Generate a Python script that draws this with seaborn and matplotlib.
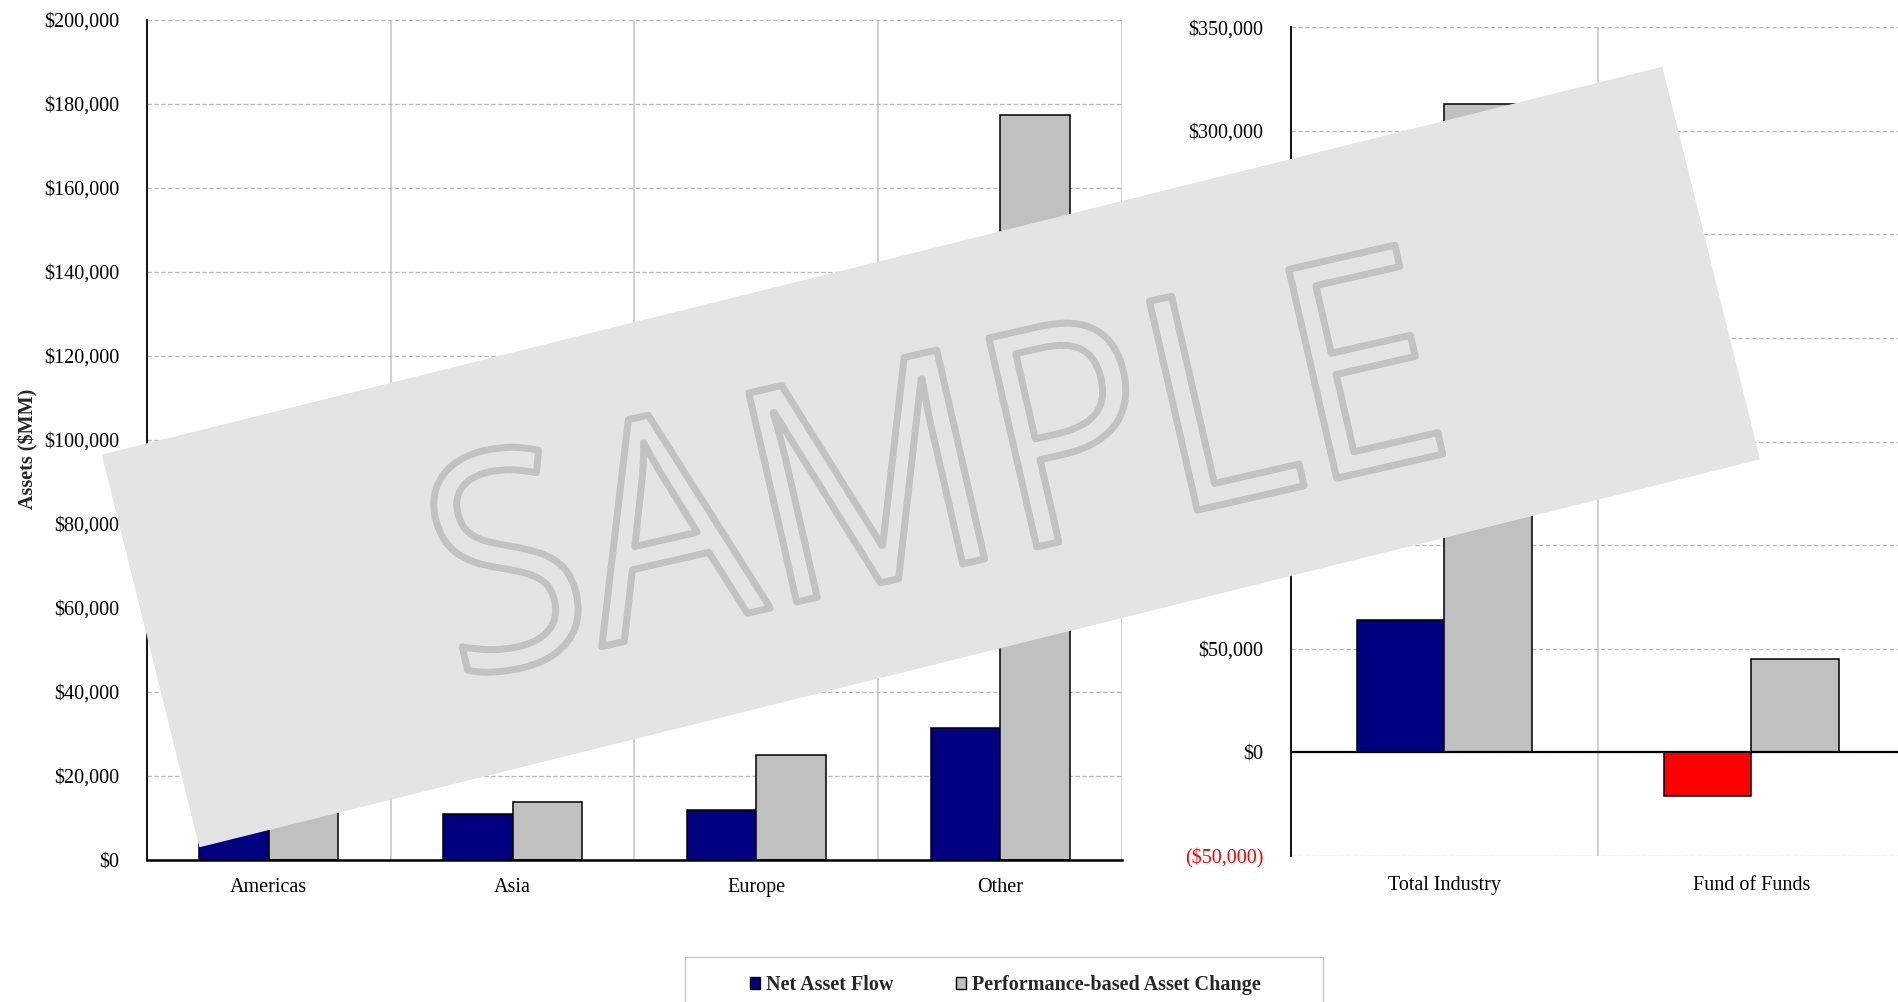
import matplotlib
matplotlib.use("Agg")
import matplotlib.pyplot as plt
import matplotlib.ticker as mticker
import matplotlib.patches as mpatches
from matplotlib.transforms import IdentityTransform, Affine2D
from matplotlib.textpath import TextPath
from matplotlib.font_manager import FontProperties
import numpy as np
import pandas as pd
import seaborn as sns

# ---------------- data ----------------
regions = ["Americas", "Asia", "Europe", "Other"]
region_net_flow = [9500, 10900, 11900, 31400]
region_perf_change = [96700, 13900, 25000, 177400]

segments = ["Total Industry", "Fund of Funds"]
segment_net_flow = [63700, -20900]
segment_perf_change = [313000, 45300]

series_names = ["Net Asset Flow", "Performance-based Asset Change"]
region_yticks = list(range(0, 200001, 20000))
segment_yticks = list(range(-50000, 350001, 50000))

# ---------------- style ----------------
sns.set_style("white")
plt.rcParams["font.family"] = ["Liberation Serif", "DejaVu Serif"]

NAVY = "#000080"
GREY = "#C0C0C0"
RED = "#FF0000"
FS = 14.5

def money(v, pos=None):
    v = int(round(v))
    return f"(${abs(v):,})" if v < 0 else f"${v:,}"

df_reg = pd.DataFrame({
    "cat": regions * 2,
    "value": region_net_flow + region_perf_change,
    "series": [series_names[0]] * len(regions) + [series_names[1]] * len(regions),
})
df_seg = pd.DataFrame({
    "cat": segments * 2,
    "value": segment_net_flow + segment_perf_change,
    "series": [series_names[0]] * len(segments) + [series_names[1]] * len(segments),
})

fig = plt.figure(figsize=(18.99, 10.02), dpi=100)
ax1 = fig.add_axes([0.0774, 0.1417, 0.5134, 0.8383])
ax2 = fig.add_axes([0.6798, 0.1457, 0.3233, 0.8273])

def style_axis(ax, ncat, yticks, bottom_spine=True):
    ax.set_xlim(-0.5, ncat - 0.5)
    ax.set_ylim(yticks[0], yticks[-1])
    ax.set_yticks(yticks)
    ax.yaxis.set_major_formatter(mticker.FuncFormatter(money))
    ax.set_axisbelow(True)
    ax.yaxis.grid(True, color="#b8b8b8", linestyle=(0, (3.5, 2)), linewidth=0.9)
    ax.set_xticks(np.arange(-0.5, ncat, 1.0), minor=True)
    ax.xaxis.grid(True, which="minor", color="#c4c4c4", linestyle="-", linewidth=1.1)
    ax.xaxis.grid(False, which="major")
    for s in ["top", "right"]:
        ax.spines[s].set_visible(False)
    ax.spines["left"].set_color("black")
    ax.spines["left"].set_linewidth(1.3)
    if bottom_spine:
        ax.spines["bottom"].set_color("black")
        ax.spines["bottom"].set_linewidth(1.8)
        ax.tick_params(axis="x", which="minor", length=6, width=1.2, color="black", direction="out")
        pad = 13
    else:
        ax.spines["bottom"].set_visible(False)
        ax.tick_params(axis="x", which="minor", length=0)
        pad = 14.5
    ax.tick_params(axis="x", which="major", length=0, pad=pad, labelsize=FS, colors="black")
    ax.tick_params(axis="y", which="major", length=6, width=1.2, color="black",
                   direction="out", pad=14, labelsize=FS, labelcolor="black")
    ax.set_xlabel("")
    ax.set_ylabel("")

# ---------------- left chart ----------------
sns.barplot(data=df_reg, x="cat", y="value", hue="series", palette=[NAVY, GREY],
            width=0.57, edgecolor="black", linewidth=1.1, saturation=1,
            ax=ax1, legend=False)
style_axis(ax1, len(regions), region_yticks)
ax1.set_ylabel("Assets ($MM)", fontsize=FS, fontweight="bold")
ax1.yaxis.set_label_coords(-0.111, 0.49)

# ---------------- right chart ----------------
sns.barplot(data=df_seg, x="cat", y="value", hue="series", palette=[NAVY, GREY],
            width=0.57, edgecolor="black", linewidth=1.1, saturation=1,
            ax=ax2, legend=False)
for bar in ax2.patches:
    if bar.get_height() < 0:
        bar.set_facecolor(RED)
style_axis(ax2, len(segments), segment_yticks, bottom_spine=False)
ax2.axhline(0, color="black", linewidth=1.6, zorder=3)
for val, tick in zip(ax2.get_yticks(), ax2.yaxis.get_major_ticks()):
    if val < 0:
        tick.label1.set_color(RED)

# ---------------- legend ----------------
handles = [mpatches.Patch(facecolor=NAVY, edgecolor="black", linewidth=1.0),
           mpatches.Patch(facecolor=GREY, edgecolor="black", linewidth=1.0)]
fig.legend(handles, series_names, loc="center", bbox_to_anchor=(0.5295, 0.017),
           ncol=2, frameon=False, handlelength=0.5, handleheight=0.5,
           handletextpad=0.3, columnspacing=3.1, borderpad=0,
           prop={"family": "Liberation Serif", "weight": "bold", "size": FS})
leg_box = mpatches.Rectangle((684.5, -10), 638.5, 1002 - 957 + 10,
                             transform=IdentityTransform(), facecolor="none",
                             edgecolor="#c8c8c8", linewidth=1.0, zorder=5)
fig.add_artist(leg_box)

# ---------------- SAMPLE watermark ----------------
cx, cy, w, h, ang = 930.9, 1002 - 457, 1608, 404.6, 13.96
wm = mpatches.Rectangle((cx - w / 2, cy - h / 2), w, h, angle=ang,
                        rotation_point="center", transform=IdentityTransform(),
                        facecolor="#e4e4e4", edgecolor="none", zorder=20)
fig.add_artist(wm)

tp = TextPath((0, 0), "SAMPLE", size=278, prop=FontProperties(family="Open Sans"))
ext = tp.get_extents()
tx0, ty0 = (ext.x0 + ext.x1) / 2, (ext.y0 + ext.y1) / 2
tr = (Affine2D().translate(-tx0, -ty0).scale(0.985, 1.08).rotate_deg(12.9)
      .translate(932, 1002 - 461) + IdentityTransform())
wm_text = mpatches.PathPatch(tp, transform=tr, facecolor="#e4e4e4",
                             edgecolor="#c2c2c2", linewidth=5.0,
                             joinstyle="round", zorder=21)
fig.add_artist(wm_text)

fig.savefig("out.png", dpi=100)
